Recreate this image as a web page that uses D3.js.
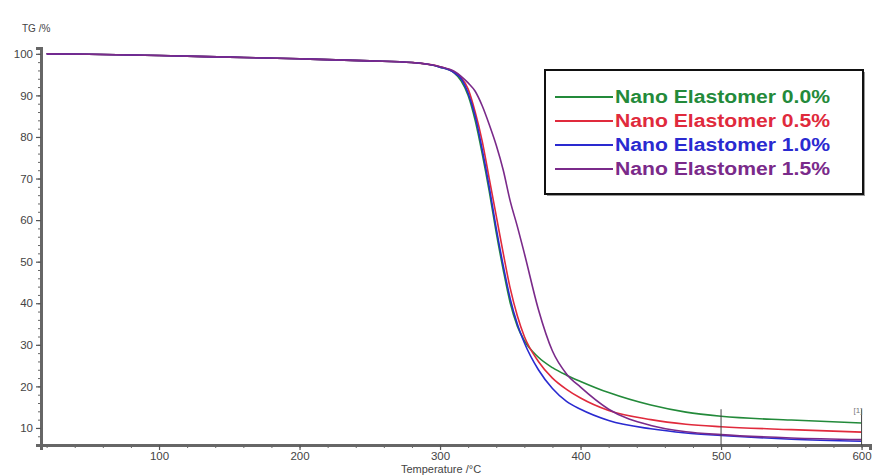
<!DOCTYPE html>
<html>
<head>
<meta charset="utf-8">
<script src="https://cdn.jsdelivr.net/npm/d3@7"></script>
<style>
  body { margin: 0; background: #fff; }
  svg { display: block; font-family: "Liberation Sans", Arial, sans-serif; }
</style>
</head>
<body>
<div id="chart"></div>
<script>
// temperature grid (°C) shared by all curves
const temps = [20, 50, 100, 150, 200, 250, 280, 300, 310, 315, 320, 325, 330, 335, 340, 345, 350, 355, 360, 370, 380, 390, 400, 420, 450, 475, 500, 550, 600];

// TG (%)
const tg00 = [100, 99.9, 99.6, 99.2, 98.8, 98.3, 97.9, 96.8, 95.4, 93.5, 90, 84, 76, 67, 57, 48, 40, 34.5, 31, 27, 24.5, 22.7, 21.2, 18.5, 15.5, 13.8, 12.8, 11.9, 11.2];
const tg05 = [100, 99.9, 99.6, 99.2, 98.8, 98.3, 97.9, 96.9, 95.6, 94.3, 91.5, 86, 79, 70, 61, 52, 43.5, 37, 32, 26, 22, 19.3, 17.2, 14.2, 12, 10.9, 10.3, 9.6, 9.0];
const tg10 = [100, 99.9, 99.6, 99.2, 98.8, 98.3, 97.9, 96.8, 95.5, 94, 90.5, 85, 77, 68, 58, 49, 41, 35, 30.5, 24, 19.5, 16.4, 14.5, 11.8, 9.8, 8.8, 8.2, 7.3, 6.8];
const tg15 = [100, 99.9, 99.6, 99.2, 98.8, 98.3, 97.9, 96.9, 95.8, 94.6, 93, 91, 87.5, 83, 78, 72, 64.5, 58.5, 52, 38.5, 28.5, 23, 19.8, 14.5, 10.6, 9.1, 8.4, 7.6, 7.2];

const seriesNames = ["Nano Elastomer 0.0%", "Nano Elastomer 0.5%", "Nano Elastomer 1.0%", "Nano Elastomer 1.5%"];
const seriesColors = ["#238a3a", "#e02a3c", "#2a2ad0", "#7a2a8a"];
const seriesValues = [tg00, tg05, tg10, tg15];

const yTicks = [10, 20, 30, 40, 50, 60, 70, 80, 90, 100];
const xTicks = [100, 200, 300, 400, 500, 600];
const markerTemps = [500, 600];

const width = 877, height = 475;
const margin = { top: 48, right: 7, bottom: 30, left: 41 };

const svg = d3.select("#chart").append("svg")
  .attr("width", width)
  .attr("height", height);

const x = d3.scaleLinear()
  .domain([16, 606])
  .range([margin.left, width - margin.right]);

const y = d3.scaleLinear()
  .domain([5.9, 101.4])
  .range([height - margin.bottom, margin.top]);

// minor ticks
svg.append("g")
  .attr("transform", `translate(${margin.left},0)`)
  .call(d3.axisLeft(y).tickValues(d3.range(6, 101, 2)).tickSize(3).tickFormat(""))
  .call(g => g.select(".domain").remove())
  .selectAll("line").attr("stroke", "#666");

svg.append("g")
  .attr("transform", `translate(0,${height - margin.bottom})`)
  .call(d3.axisBottom(x).tickValues(d3.range(20, 601, 20)).tickSize(3).tickFormat(""))
  .call(g => g.select(".domain").remove())
  .selectAll("line").attr("stroke", "#666");

// major axes
const yAxis = svg.append("g")
  .attr("transform", `translate(${margin.left},0)`)
  .call(d3.axisLeft(y).tickValues(yTicks).tickSize(5).tickPadding(3));

const xAxis = svg.append("g")
  .attr("transform", `translate(0,${height - margin.bottom})`)
  .call(d3.axisBottom(x).tickValues(xTicks).tickSize(5).tickPadding(2));

[yAxis, xAxis].forEach(g => {
  g.select(".domain").attr("stroke", "#666").attr("stroke-width", 3);
  g.selectAll(".tick line").attr("stroke", "#555").attr("stroke-width", 1.2);
  g.selectAll("text").attr("fill", "#444").attr("font-size", 11.5);
});

svg.append("text")
  .attr("x", 22).attr("y", 32)
  .attr("font-size", 10).attr("fill", "#444")
  .text("TG /%");

svg.append("text")
  .attr("x", 441).attr("y", 473)
  .attr("text-anchor", "middle")
  .attr("font-size", 11).attr("fill", "#444")
  .text("Temperature /°C");

// curves
const line = d3.line()
  .x((d, i) => x(temps[i]))
  .y(d => y(d))
  .curve(d3.curveMonotoneX);

seriesValues.forEach((vals, i) => {
  svg.append("path")
    .datum(vals)
    .attr("fill", "none")
    .attr("stroke", seriesColors[i])
    .attr("stroke-width", 1.6)
    .attr("d", line);
});

// small vertical step markers
markerTemps.forEach(t => {
  svg.append("line")
    .attr("x1", x(t)).attr("x2", x(t))
    .attr("y1", y(14.5)).attr("y2", y(5.9))
    .attr("stroke", "#444").attr("stroke-width", 1);
});
svg.append("text")
  .attr("x", x(600) - 8).attr("y", y(13.5))
  .attr("font-size", 8).attr("fill", "#777")
  .text("[1]");

// legend
const lg = svg.append("g").attr("transform", "translate(545,70)");
lg.append("rect")
  .attr("x", 2).attr("y", 2)
  .attr("width", 318).attr("height", 124)
  .attr("fill", "#999");
lg.append("rect")
  .attr("width", 318).attr("height", 124)
  .attr("fill", "#fff")
  .attr("stroke", "#111").attr("stroke-width", 2);

seriesNames.forEach((name, i) => {
  const yy = 27 + i * 24;
  lg.append("line")
    .attr("x1", 10).attr("x2", 68)
    .attr("y1", yy).attr("y2", yy)
    .attr("stroke", seriesColors[i]).attr("stroke-width", 2);
  lg.append("text")
    .attr("x", 70).attr("y", yy + 6)
    .attr("font-size", 18).attr("font-weight", "bold")
    .attr("textLength", 215).attr("lengthAdjust", "spacingAndGlyphs")
    .attr("fill", seriesColors[i])
    .text(name);
});
</script>
</body>
</html>
